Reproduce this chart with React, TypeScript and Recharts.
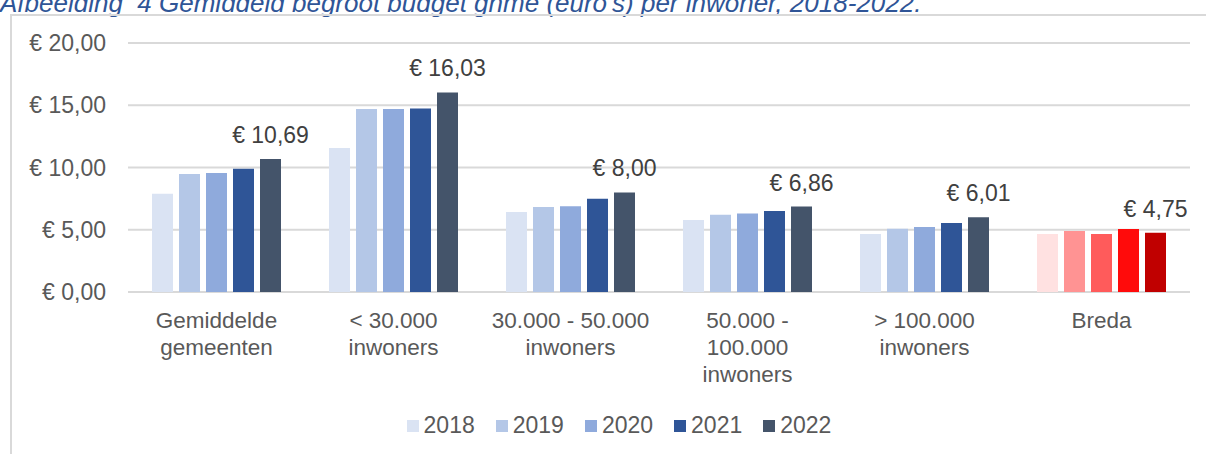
import React from "react";
import { Bar, BarChart, CartesianGrid, Cell, LabelList, Legend, XAxis, YAxis } from "recharts";

const categories = [
  "Gemiddelde gemeenten",
  "< 30.000 inwoners",
  "30.000 - 50.000 inwoners",
  "50.000 - 100.000 inwoners",
  "> 100.000 inwoners",
  "Breda",
];

// how each category label is broken over lines
const categoryLines = [
  ["Gemiddelde", "gemeenten"],
  ["< 30.000", "inwoners"],
  ["30.000 - 50.000", "inwoners"],
  ["50.000 -", "100.000", "inwoners"],
  ["> 100.000", "inwoners"],
  ["Breda"],
];

const years = ["2018", "2019", "2020", "2021", "2022"];

const v2018 = [7.89, 11.56, 6.42, 5.78, 4.65, 4.65];
const v2019 = [9.47, 14.69, 6.82, 6.2, 5.08, 4.9];
const v2020 = [9.55, 14.7, 6.88, 6.31, 5.22, 4.65];
const v2021 = [9.9, 14.74, 7.49, 6.5, 5.54, 5.06];
const v2022 = [10.69, 16.03, 8.0, 6.86, 6.01, 4.75];

const yTicks = [0, 5, 10, 15, 20];

const blueColors = ["#DAE3F3", "#B4C7E7", "#8FAADC", "#2F5597", "#44546A"];
const bredaColors = ["#FFE1E1", "#FF9393", "#FF5B5B", "#FF0B0B", "#C00000"];

const seriesValues = [v2018, v2019, v2020, v2021, v2022];

const data = categories.map((name, i) => {
  const row: Record<string, string | number> = { name };
  years.forEach((y, k) => {
    row[y] = seriesValues[k][i];
  });
  return row;
});

const FONT = '"Liberation Sans", Arial, sans-serif';

const euro = (v: number) => `€ ${Number(v).toFixed(2).replace(".", ",")}`;

const CategoryTick = (props: any) => {
  const { x, y, payload } = props;
  const idx = categories.indexOf(payload.value);
  const lines = categoryLines[idx] || [payload.value];
  return (
    <text textAnchor="middle" fill="#595959" fontSize={22.5} fontFamily={FONT}>
      {lines.map((l, i) => (
        <tspan key={i} x={x} y={y + 28 + i * 27}>
          {l}
        </tspan>
      ))}
    </text>
  );
};

const ValueLabel = (props: any) => {
  const { x, y, width, value } = props;
  return (
    <text x={x + width / 2} y={y - 16} textAnchor="middle" fill="#404040" fontSize={23} fontFamily={FONT}>
      {euro(value)}
    </text>
  );
};

const renderLegend = () => (
  <div
    style={{
      display: "flex",
      justifyContent: "center",
      paddingLeft: 48,
      paddingTop: 8,
      fontFamily: FONT,
      fontSize: 23,
      color: "#595959",
    }}
  >
    {years.map((y, k) => (
      <div key={y} style={{ display: "flex", alignItems: "center", marginRight: k < years.length - 1 ? 21 : 0 }}>
        <span style={{ width: 12, height: 12, background: blueColors[k], marginRight: 5, display: "inline-block" }} />
        <span>{y}</span>
      </div>
    ))}
  </div>
);

const App = () => {
  return (
    <div style={{ position: "absolute", left: 0, top: 0, width: 1206, height: 454, overflow: "hidden", background: "#fff" }}>
      <div
        style={{
          position: "absolute",
          left: 0,
          top: -10,
          fontFamily: FONT,
          fontStyle: "italic",
          fontSize: 26,
          lineHeight: "26px",
          color: "#2F5597",
          whiteSpace: "nowrap",
        }}
      >
        Afbeelding&nbsp; 4 Gemiddeld begroot budget gnme (euro's) per inwoner, 2018-2022.
      </div>
      <div
        style={{
          position: "absolute",
          left: 10,
          top: 14,
          width: 1300,
          height: 500,
          borderLeft: "2px solid #D9D9D9",
          borderTop: "2px solid #D9D9D9",
        }}
      />
      <div style={{ position: "absolute", left: 0, top: 0 }}>
        <BarChart
          width={1206}
          height={454}
          data={data}
          margin={{ top: 43, right: 16, left: 0, bottom: 0 }}
          barSize={21}
          barGap={6}
        >
          <CartesianGrid vertical={false} stroke="#D9D9D9" strokeWidth={2} />
          <XAxis
            dataKey="name"
            tickLine={false}
            axisLine={false}
            interval={0}
            height={112}
            tick={<CategoryTick />}
          />
          <YAxis
            width={128}
            domain={[0, 20]}
            ticks={yTicks}
            tickLine={false}
            axisLine={false}
            tickMargin={16}
            tickFormatter={euro}
            tick={{ fill: "#595959", fontSize: 23, fontFamily: FONT }}
          />
          <Legend verticalAlign="bottom" height={50} content={renderLegend} />
          {years.map((y, k) => (
            <Bar key={y} dataKey={y} fill={blueColors[k]} isAnimationActive={false}>
              {data.map((d, i) => (
                <Cell key={i} fill={d.name === "Breda" ? bredaColors[k] : blueColors[k]} />
              ))}
              {k === years.length - 1 && <LabelList dataKey={y} content={<ValueLabel />} />}
            </Bar>
          ))}
        </BarChart>
      </div>
    </div>
  );
};

export default App;
